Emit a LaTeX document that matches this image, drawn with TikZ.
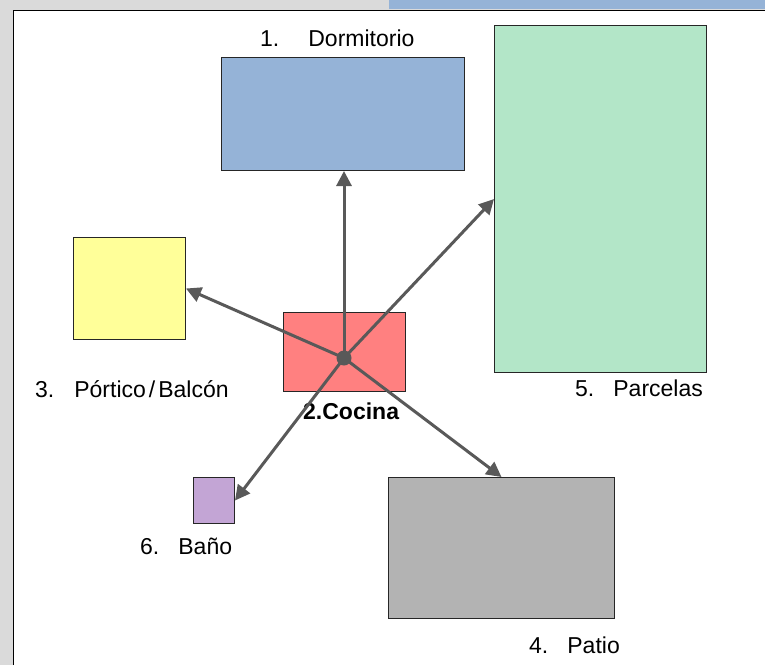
\documentclass[tikz,border=0pt]{standalone}
\usepackage{fontspec}
\setmainfont{Liberation Sans}
\usepackage{xcolor}
\usetikzlibrary{arrows.meta,positioning}

\definecolor{framegray}{HTML}{DADADA}
\definecolor{dormblue}{HTML}{95B3D7}
\definecolor{parcgreen}{HTML}{B3E6C8}
\definecolor{portyellow}{HTML}{FFFF99}
\definecolor{cocred}{HTML}{FF8080}
\definecolor{banpurple}{HTML}{C3A5D5}
\definecolor{patgray}{HTML}{B3B3B3}
\definecolor{linkgray}{HTML}{595959}

\tikzset{
  room/.style={draw=black!85,line width=1pt,inner sep=0pt,anchor=north west},
  roomlabel/.style={inner sep=0pt,anchor=base west},
  link/.style={draw=linkgray,line width=3pt,-{Triangle[length=15pt,width=15pt]}}
}

\begin{document}
\begin{tikzpicture}[x=1pt,y=-1pt,font=\fontsize{23}{27}\selectfont]
  \useasboundingbox (0,0) rectangle (765,665);
  % window frame
  \fill[framegray] (0,0) rectangle (765,665);
  \fill[dormblue] (389,0) rectangle (765,9);
  \fill[white] (13.5,10.5) rectangle (765,665);
  \draw[line width=1.5pt] (13.5,665) -- (13.5,10.5) -- (765,10.5);

  % rooms
  \node[room,fill=dormblue,minimum width=243pt,minimum height=113pt] (dorm) at (221,57) {};
  \node[room,fill=parcgreen,minimum width=212pt,minimum height=347pt] (parc) at (494,25) {};
  \node[room,fill=portyellow,minimum width=112pt,minimum height=102pt] (port) at (73,237) {};
  \node[room,fill=cocred,minimum width=122pt,minimum height=79pt] (coc) at (283,312) {};
  \node[room,fill=banpurple,minimum width=41pt,minimum height=46pt] (ban) at (193,477) {};
  \node[room,fill=patgray,minimum width=226pt,minimum height=141pt] (pat) at (388,477) {};

  % labels
  \node[roomlabel] (dormlbl) at (260,46) {1.\hspace{29pt}Dormitorio};
  \node[roomlabel] (portlbl) at (35,397) {3.\hspace{20pt}Pórtico\kern3pt/\kern3ptBalcón};
  \node[roomlabel,font=\fontsize{23}{27}\selectfont\bfseries] (coclbl) at (303,419) {2.Cocina};
  \node[roomlabel] (parclbl) at (575,396) {5.\hspace{19pt}Parcelas};
  \node[roomlabel] (banlbl) at (140,554) {6.\hspace{19pt}Baño};
  \node[roomlabel] (patlbl) at (529,653) {4.\hspace{19pt}Patio};

  % hub and links
  \coordinate (hub) at (344,358);
  \draw[link] (hub) -- (dorm.south -| hub);
  \draw[link] (hub) -- (parc.west);
  \draw[link] (hub) -- (port.east);
  \draw[link] (hub) -- (ban.east);
  \draw[link] (hub) -- (pat.north);
  \fill[linkgray] (hub) circle (7.5pt);
\end{tikzpicture}
\end{document}
